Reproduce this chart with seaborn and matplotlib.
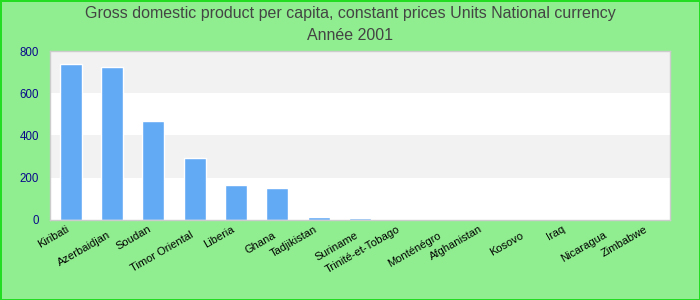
import matplotlib
matplotlib.use("Agg")
import matplotlib.pyplot as plt
import matplotlib.transforms as mtransforms
import seaborn as sns
import pandas as pd

countries = ["Kiribati", "Azerbaidjan", "Soudan", "Timor Oriental", "Liberia", "Ghana",
             "Tadjikistan", "Suriname", "Trinité-et-Tobago", "Monténégro", "Afghanistan",
             "Kosovo", "Iraq", "Nicaragua", "Zimbabwe"]
values = [738, 724, 468, 293, 166, 151, 15, 10, 0, 0, 0, 0, 0, 0, 0]
yticks = [0, 200, 400, 600, 800]

sns.set_theme(style="white")
plt.rcParams['font.family'] = ['Liberation Sans', 'DejaVu Sans']

fig = plt.figure(figsize=(7, 3), dpi=100)
fig.patch.set_facecolor("#90EE90")
fig.patch.set_edgecolor("#22dd22")
fig.patch.set_linewidth(2)
ax = fig.add_axes([0.0714, 0.267, 0.886, 0.563])
ax.set_facecolor("white")
for lo in (200, 600):
    ax.axhspan(lo, lo + 200, color="#f2f2f2", zorder=0, lw=0)

df = pd.DataFrame({"country": countries, "value": values})
sns.barplot(data=df, x="country", y="value", color="#63aaf5", saturation=1,
            width=0.53, ax=ax, zorder=2)
ax.set_ylim(0, 800)
ax.set_xlim(-0.5, len(countries) - 0.5)
ax.set_yticks(yticks)
ax.set_yticklabels([str(t) for t in yticks], color="#0a0a8a", fontsize=8.3)
ax.set_xlabel("")
ax.set_ylabel("")
ax.tick_params(axis="both", length=0)
ax.tick_params(axis="y", pad=8)
ax.tick_params(axis="x", pad=3)
ax.set_xticklabels(countries, rotation=30, ha="right", rotation_mode="anchor",
                   fontsize=8, color="black")
for i, lab in enumerate(ax.get_xticklabels()):
    dy = -6 if i % 2 == 1 else 0
    lab.set_transform(lab.get_transform() + mtransforms.ScaledTranslation(-5 / 100, dy / 100, fig.dpi_scale_trans))
for s in ax.spines.values():
    s.set_color("#cccccc")
    s.set_linewidth(1)

fig.text(0.5, 0.955, "Gross domestic product per capita, constant prices Units National currency",
         ha="center", va="center", fontsize=11.5, color="#444444")
fig.text(0.5, 0.88, "Année 2001", ha="center", va="center", fontsize=11.5, color="#444444")

fig.savefig("out.png", dpi=100, facecolor=fig.get_facecolor(), edgecolor=fig.get_edgecolor())
